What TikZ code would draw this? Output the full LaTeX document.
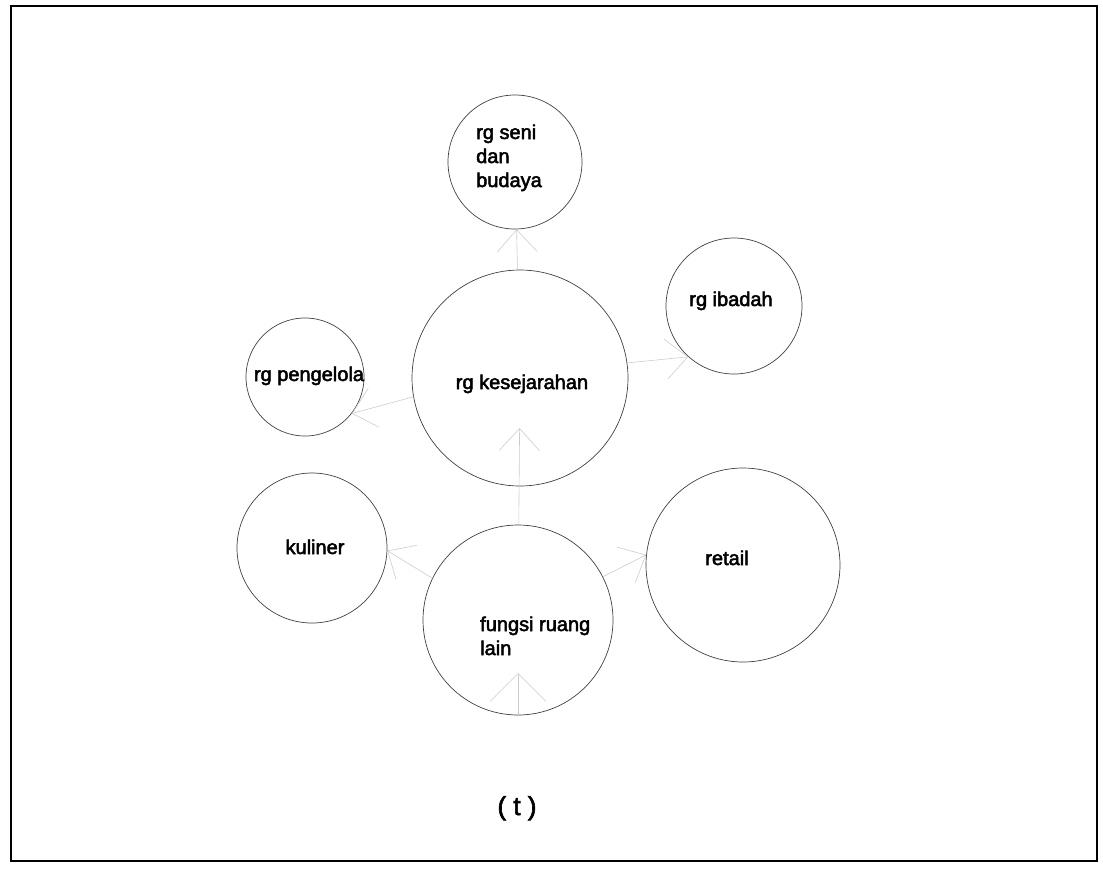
\documentclass[tikz,border=0pt]{standalone}
\usepackage{fontspec}
\setmainfont{Liberation Sans}
\newfontfamily\lblfont{Liberation Sans}[FakeBold=2.5]
\usetikzlibrary{arrows.meta}
\begin{document}
\begin{tikzpicture}[x=1pt,y=-1pt,
  room/.style={circle,draw=black!75,line width=0.7pt,inner sep=0pt},
  lbl/.style={font=\lblfont\fontsize{20}{24}\selectfont,align=left,inner sep=0pt,text=black},
  conn/.style={draw=black!20,line width=0.6pt,-{Straight Barb[length=22pt,width=40pt,line width=0.6pt]}},
  bigconn/.style={draw=black!20,line width=0.6pt,-{Straight Barb[length=28pt,width=56pt,line width=0.6pt]}}
]
\useasboundingbox (0,0) rectangle (1103,873);
\draw[line width=2.6pt] (11,6) rectangle (1097,861);

% circles
\node[room,minimum size=134pt] (seni)   at (515,162) {};
\node[room,minimum size=216pt] (kes)    at (520,378) {};
\node[room,minimum size=136pt] (ibadah) at (734,306) {};
\node[room,minimum size=118pt] (peng)   at (305,377) {};
\node[room,minimum size=150pt] (kul)    at (312,548) {};
\node[room,minimum size=190pt] (fungsi) at (518,620) {};
\node[room,minimum size=194pt] (retail) at (743,565) {};

% labels (base anchor of a multi-line node = last line)
\node[lbl,anchor=base west] (seni-t)   at (476,187) {rg seni\\dan\\budaya};
\node[lbl,anchor=base]      (kes-t)    at (522,389) {rg kesejarahan};
\node[lbl,anchor=base]      (ibadah-t) at (731,306) {rg ibadah};
\node[lbl,anchor=base]      (peng-t)   at (309,381) {rg pengelola};
\node[lbl,anchor=base]      (kul-t)    at (315,554) {kuliner};
\node[lbl,anchor=base]      (retail-t) at (727,565) {retail};
\node[lbl,anchor=base west] (fungsi-t) at (480,655) {fungsi ruang\\lain};
\node[font=\lblfont\fontsize{26}{30}\selectfont,anchor=base,inner sep=0pt] (cap) at (517,815) {( t )};

% connectors
\draw[conn] (kes) -- (seni);
\draw[conn] (kes.8) -- (ibadah.228);
\draw[conn] (kes.190) -- (peng.-38);
\draw[conn,shorten >=50pt] (fungsi) -- (kes.center);
\draw[conn] (fungsi.154) -- (kul.358);
\draw[conn] (fungsi.27) -- (retail.174);
\draw[bigconn,shorten >=53pt] (fungsi.south) -- (fungsi.center);
\end{tikzpicture}
\end{document}
